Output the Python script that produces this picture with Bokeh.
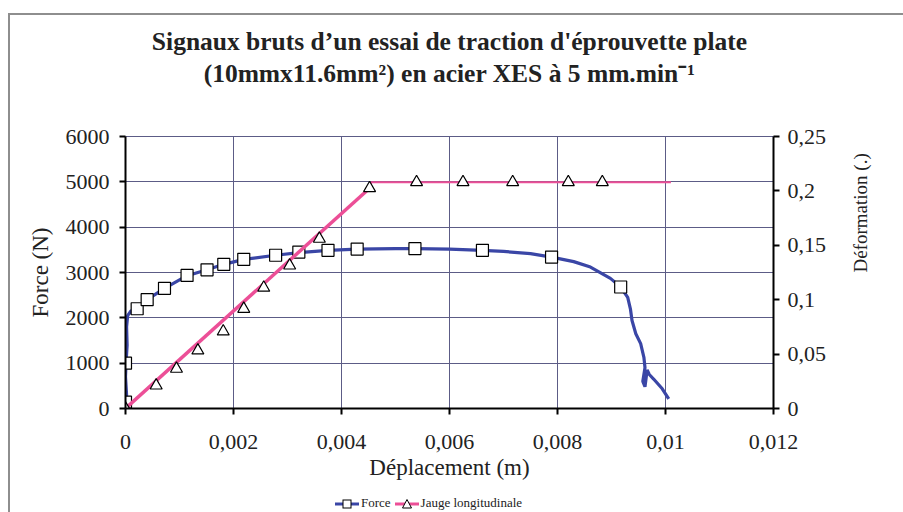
import math
from bokeh.plotting import figure
from bokeh.layouts import column
from bokeh.models import (Range1d, LinearAxis, FixedTicker, Title, Div, InlineStyleSheet)
from bokeh.embed import file_html
from bokeh.resources import INLINE

# ---------------- data ----------------
# Force curve (x in m, force in N)
force_x = [0.0, 0.00002, 0.0, 0.00001, 0.00003, 0.00002, 0.00004, 0.0001, 0.000216,
           0.000401, 0.000722, 0.00114, 0.00151, 0.00182, 0.00219, 0.00278, 0.00321,
           0.00375, 0.00429, 0.0050, 0.00536, 0.0060, 0.00661, 0.0070, 0.0075, 0.00789,
           0.0083, 0.00861, 0.00898, 0.00917, 0.0093, 0.00935, 0.00938, 0.00945, 0.00954,
           0.0096, 0.00962, 0.00958, 0.00962, 0.00966, 0.0097, 0.00978, 0.00994, 0.01006]
force_y = [0, 300, 700, 1000, 1400, 1800, 2050, 2150, 2200,
           2400, 2650, 2930, 3060, 3180, 3290, 3380, 3440,
           3490, 3515, 3525, 3525, 3515, 3490, 3465, 3415, 3340,
           3240, 3120, 2870, 2680, 2450, 2200, 1940, 1650, 1430,
           1130, 900, 600, 480, 850, 750, 650, 435, 214]
# Force markers
force_mx = [0.0, 0.0, 0.000216, 0.000401, 0.000722, 0.00114, 0.00151, 0.00182, 0.00219,
            0.00278, 0.00321, 0.00375, 0.00429, 0.00536, 0.00661, 0.00789, 0.00917]
force_my = [140, 1000, 2200, 2400, 2650, 2936, 3060, 3180, 3290,
            3380, 3450, 3490, 3517, 3525, 3490, 3340, 2680]

# Longitudinal gauge (strain, right axis)
jauge_x = [0.0, 0.00452, 0.00455, 0.0101]
jauge_y = [0.0, 0.2025, 0.208, 0.208]
jauge_mx = [0.0, 0.000568, 0.000944, 0.00134, 0.00181, 0.00219, 0.00256, 0.00304,
            0.00359, 0.00452, 0.00539, 0.00625, 0.00717, 0.0082, 0.00883]
jauge_my = [0.0, 0.0211, 0.0365, 0.0533, 0.0708, 0.0916, 0.111, 0.1314,
            0.156, 0.2025, 0.208, 0.208, 0.208, 0.208, 0.208]

x_ticks = [0, 0.002, 0.004, 0.006, 0.008, 0.010, 0.012]
x_labels = ["0", "0,002", "0,004", "0,006", "0,008", "0,01", "0,012"]
y_ticks = [0, 1000, 2000, 3000, 4000, 5000, 6000]
y2_ticks = [0, 0.05, 0.10, 0.15, 0.20, 0.25]
y2_labels = ["0", "0,05", "0,1", "0,15", "0,2", "0,25"]

title1 = "Signaux bruts d\u2019un essai de traction d'\u00e9prouvette plate"
title2 = "(10mmx11.6mm\u00b2) en acier XES \u00e0 5 mm.min\u207b\u00b9"
legend_labels = ["Force", "Jauge longitudinale"]

FONT = "Liberation Serif"
BLUE = "#3a46a6"
PINK = "#ec4f97"
GRID = "#5c5c86"
TXT = "#222222"

W, H = 903, 494          # figure; a 18px legend strip goes below it
FL, FR, FT, FB = 125, 130, 136, 86
p = figure(width=W, height=H, output_backend="svg", toolbar_location=None,
           x_range=Range1d(0, 0.012), y_range=Range1d(0, 6000),
           min_border_left=FL, min_border_right=FR, min_border_top=FT,
           min_border_bottom=FB, x_axis_location=None, y_axis_location=None)
p.extra_y_ranges = {"def": Range1d(0, 0.25)}
p.background_fill_color = "white"
p.border_fill_color = "white"
p.outline_line_color = GRID
p.outline_line_width = 1

# axes
xa = LinearAxis(ticker=FixedTicker(ticks=x_ticks))
xa.major_label_overrides = {t: l for t, l in zip(x_ticks, x_labels)}
xa.axis_label = "D\u00e9placement (m)"
ya = LinearAxis(ticker=FixedTicker(ticks=y_ticks))
ya.axis_label = "Force (N)"
ya2 = LinearAxis(y_range_name="def", ticker=FixedTicker(ticks=y2_ticks))
ya2.major_label_overrides = {t: l for t, l in zip(y2_ticks, y2_labels)}
ya2.axis_label = "D\u00e9formation (.)"
for ax in (xa, ya, ya2):
    ax.axis_line_color = "black"
    ax.axis_line_width = 2
    ax.major_tick_line_color = "black"
    ax.major_tick_line_width = 2
    ax.major_tick_out = 6
    ax.major_tick_in = 0
    ax.minor_tick_line_color = None
    ax.major_label_text_font = FONT
    ax.major_label_text_font_size = "22px"
    ax.major_label_text_color = TXT
    ax.axis_label_text_font = FONT
    ax.axis_label_text_font_style = "normal"
    ax.axis_label_text_font_size = "23px"
    ax.axis_label_text_color = TXT
xa.major_label_standoff = 20
xa.axis_label_standoff = 3
ya.major_label_standoff = 10
ya.axis_label_standoff = 10
ya2.major_label_standoff = 8
ya2.axis_label_standoff = 31
ya2.axis_label_text_font_size = "19px"
try:
    ya2.axis_label_orientation = math.pi / 2
except Exception:
    pass
p.add_layout(xa, "below")
p.add_layout(ya, "left")
p.add_layout(ya2, "right")

# grid
p.xgrid.ticker = FixedTicker(ticks=x_ticks)
p.ygrid.ticker = FixedTicker(ticks=y_ticks)
for g in (p.xgrid[0], p.ygrid[0]):
    g.grid_line_color = GRID
    g.grid_line_width = 1

# series
p.line(force_x, force_y, line_color=BLUE, line_width=3.2)
p.scatter(force_mx, force_my, marker="square", size=12, fill_color="white",
          line_color="black", line_width=1.2)
p.line(jauge_x[:2], jauge_y[:2], line_color=PINK, line_width=3.5, y_range_name="def")
p.line(jauge_x[1:], jauge_y[1:], line_color=PINK, line_width=2, y_range_name="def")
p.scatter(jauge_mx, jauge_my, marker="triangle", size=12, fill_color="white",
          line_color="black", line_width=1.2, y_range_name="def")

# title (two lines), stacked outward from the frame above a blank spacer
tkw = dict(align="center", text_font=FONT, text_font_style="bold",
           text_font_size="25.5px", text_color=TXT)
try:
    sp = Title(text=" ", standoff=17, **tkw)
    t2 = Title(text=title2, offset=8, standoff=1, **tkw)
    t1 = Title(text=title1, offset=3, standoff=1, **tkw)
    p.add_layout(sp, "above")
    p.add_layout(t2, "above")
    p.add_layout(t1, "above")
except Exception:
    p.add_layout(Title(text=" ", text_font_size="34px"), "above")
    p.add_layout(Title(text=title2, offset=8, **tkw), "above")
    p.add_layout(Title(text=title1, offset=3, **tkw), "above")

# legend strip (HTML) under the figure
sym_force = ('<svg width="24" height="12" style="vertical-align:middle">'
             '<line x1="0" y1="6" x2="24" y2="6" stroke="%s" stroke-width="3"/>'
             '<rect x="8" y="2" width="8" height="8" fill="white" stroke="black" '
             'stroke-width="1"/></svg>' % BLUE)
sym_jauge = ('<svg width="24" height="12" style="vertical-align:middle">'
             '<line x1="0" y1="6" x2="24" y2="6" stroke="%s" stroke-width="3"/>'
             '<polygon points="12,1.5 16.5,10 7.5,10" fill="white" stroke="black" '
             'stroke-width="1"/></svg>' % PINK)
legend_html = (
    '<div style="position:relative;width:%dpx;height:18px;font-family:\'%s\';'
    'font-size:13px;color:%s;white-space:nowrap;line-height:18px">'
    '<div style="position:absolute;left:335px;top:0">%s<span style="margin:0 4px 0 2px">%s</span>'
    '%s<span style="margin-left:2px">%s</span></div></div>'
    % (W, FONT, TXT, sym_force, legend_labels[0], sym_jauge, legend_labels[1]))
leg_div = Div(text=legend_html, width=W, height=18, margin=0)

# outer chart border (top and left edges) drawn with CSS
p.stylesheets = [InlineStyleSheet(css=(
    ":host { position: relative; overflow: hidden; }"
    ":host::after { content: ''; position: absolute; left: 8px; top: 13px; width: 3000px;"
    " height: 3000px; border-top: 2px solid #8e8e8e; border-left: 2px solid #8e8e8e;"
    " pointer-events: none; z-index: 5; }"))]
leg_div.stylesheets = [InlineStyleSheet(css=(
    ":host { position: relative; overflow: hidden; }"
    ":host::after { content: ''; position: absolute; left: 8px; top: 0; width: 3000px;"
    " height: 3000px; border-left: 2px solid #8e8e8e; pointer-events: none; }"))]

layout = column(p, leg_div, spacing=0)
open("out.html", "w").write(file_html(layout, INLINE))
